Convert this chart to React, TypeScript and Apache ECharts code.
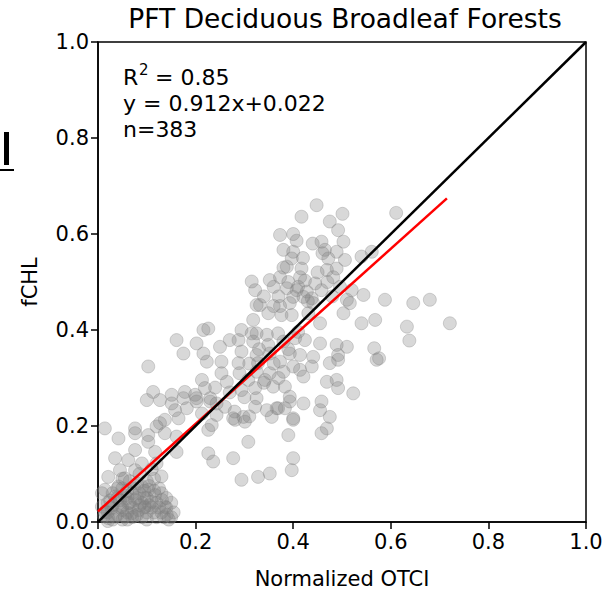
import React, { useEffect, useRef } from "react";
import * as echarts from "echarts";

// Normalized OTCI (x) vs fCHL (y) samples
const lowCluster: number[][] = [
  [0.014, 0.195], [0.076, 0.195], [0.042, 0.174], [0.076, 0.185], [0.103, 0.181], [0.12, 0.199],
  [0.137, 0.185], [0.103, 0.167], [0.161, 0.178], [0.076, 0.15], [0.117, 0.146], [0.161, 0.146],
  [0.035, 0.133], [0.062, 0.129], [0.09, 0.122], [0.12, 0.122], [0.045, 0.108], [0.076, 0.108],
  [0.021, 0.094], [0.055, 0.091], [0.014, 0.067], [0.042, 0.074], [0.008, 0.06], [0.035, 0.053],
  [0.09, 0.074], [0.103, 0.067], [0.117, 0.056], [0.131, 0.046], [0.137, 0.032], [0.141, 0.015],
  [0.11, 0.042], [0.096, 0.032], [0.083, 0.025], [0.069, 0.018], [0.055, 0.011], [0.035, 0.011],
  [0.021, 0.008], [0.076, 0.046], [0.062, 0.039], [0.049, 0.032], [0.028, 0.029], [0.014, 0.021],
  [0.008, 0.032], [0.02, 0.04], [0.03, 0.06], [0.05, 0.07], [0.06, 0.05], [0.07, 0.06],
  [0.08, 0.05], [0.09, 0.04], [0.1, 0.05], [0.11, 0.03], [0.12, 0.04], [0.1, 0.02],
  [0.12, 0.01], [0.13, 0.02], [0.14, 0.03], [0.15, 0.01], [0.06, 0.02], [0.05, 0.025],
  [0.04, 0.015], [0.07, 0.03], [0.08, 0.015], [0.09, 0.01], [0.1, 0.085], [0.115, 0.09],
  [0.13, 0.06], [0.085, 0.1], [0.065, 0.085], [0.025, 0.045], [0.045, 0.03], [0.03, 0.005],
  [0.06, 0.005], [0.075, 0.012], [0.095, 0.065], [0.105, 0.075], [0.125, 0.07], [0.14, 0.05],
  [0.15, 0.04], [0.155, 0.02], [0.11, 0.11], [0.13, 0.095], [0.095, 0.03], [0.012, 0.012],
  [0.02, 0.002], [0.04, 0.05], [0.05, 0.09], [0.08, 0.08], [0.03, 0.035], [0.045, 0.045],
  [0.055, 0.055], [0.065, 0.04], [0.075, 0.07], [0.085, 0.06], [0.095, 0.05], [0.105, 0.035],
  [0.115, 0.02], [0.125, 0.03], [0.135, 0.01], [0.145, 0.005], [0.05, 0.005], [0.085, 0.035],
  [0.1, 0.005], [0.115, 0.065], [0.07, 0.01], [0.04, 0.07], [0.02, 0.02], [0.06, 0.065],
];

const midCluster: number[][] = [
  [0.226, 0.403], [0.216, 0.4], [0.161, 0.379], [0.202, 0.372], [0.25, 0.365], [0.27, 0.379],
  [0.288, 0.379], [0.175, 0.351], [0.216, 0.351], [0.223, 0.334], [0.253, 0.334], [0.294, 0.355],
  [0.103, 0.324], [0.253, 0.31], [0.288, 0.331], [0.213, 0.296], [0.264, 0.292], [0.219, 0.279],
  [0.113, 0.271], [0.151, 0.265], [0.178, 0.271], [0.199, 0.265], [0.1, 0.254], [0.127, 0.254],
  [0.151, 0.247], [0.175, 0.258], [0.158, 0.233], [0.182, 0.237], [0.202, 0.258], [0.23, 0.258],
  [0.243, 0.247], [0.165, 0.216], [0.277, 0.216], [0.127, 0.206], [0.137, 0.213], [0.233, 0.202],
  [0.294, 0.275], [0.308, 0.296], [0.315, 0.393], [0.294, 0.4], [0.202, 0.251], [0.23, 0.251],
  [0.393, 0.251], [0.213, 0.226], [0.243, 0.223], [0.281, 0.213], [0.298, 0.219], [0.301, 0.209],
  [0.366, 0.237], [0.383, 0.237], [0.4, 0.213], [0.226, 0.192], [0.308, 0.167], [0.39, 0.181],
  [0.458, 0.185], [0.226, 0.143], [0.236, 0.126], [0.277, 0.133], [0.4, 0.133], [0.397, 0.108],
  [0.352, 0.101], [0.328, 0.094], [0.294, 0.088], [0.33, 0.36], [0.36, 0.33], [0.39, 0.36],
  [0.37, 0.3], [0.34, 0.29], [0.31, 0.33], [0.3, 0.26], [0.29, 0.31], [0.27, 0.27],
  [0.26, 0.24], [0.28, 0.23], [0.31, 0.22], [0.24, 0.28],
];

const highCluster: number[][] = [
  [0.448, 0.66], [0.417, 0.636], [0.501, 0.642], [0.475, 0.626], [0.492, 0.608], [0.373, 0.598],
  [0.407, 0.586], [0.458, 0.584], [0.503, 0.584], [0.38, 0.567], [0.4, 0.563], [0.465, 0.567],
  [0.489, 0.563], [0.397, 0.549], [0.472, 0.549], [0.506, 0.546], [0.54, 0.553], [0.561, 0.563],
  [0.387, 0.532], [0.417, 0.528], [0.469, 0.525], [0.489, 0.528], [0.352, 0.504], [0.373, 0.51],
  [0.414, 0.51], [0.424, 0.503], [0.445, 0.497], [0.482, 0.51], [0.322, 0.483], [0.387, 0.487],
  [0.407, 0.483], [0.428, 0.48], [0.458, 0.483], [0.496, 0.49], [0.315, 0.501], [0.4, 0.469],
  [0.421, 0.469], [0.438, 0.466], [0.393, 0.456], [0.332, 0.452], [0.373, 0.45], [0.51, 0.463],
  [0.544, 0.473], [0.52, 0.483], [0.611, 0.644], [0.588, 0.463], [0.646, 0.456], [0.68, 0.463],
  [0.568, 0.421], [0.633, 0.407], [0.721, 0.414], [0.638, 0.378], [0.566, 0.362], [0.576, 0.341],
  [0.325, 0.452], [0.441, 0.456], [0.516, 0.456], [0.318, 0.421], [0.349, 0.435], [0.376, 0.431],
  [0.397, 0.431], [0.431, 0.435], [0.503, 0.435], [0.455, 0.414], [0.54, 0.414], [0.325, 0.393],
  [0.346, 0.39], [0.369, 0.393], [0.41, 0.396], [0.318, 0.376], [0.349, 0.369], [0.38, 0.376],
  [0.404, 0.383], [0.424, 0.379], [0.455, 0.372], [0.489, 0.369], [0.51, 0.365], [0.325, 0.348],
  [0.352, 0.351], [0.393, 0.351], [0.414, 0.348], [0.441, 0.344], [0.492, 0.348], [0.328, 0.331],
  [0.373, 0.334], [0.4, 0.324], [0.414, 0.317], [0.438, 0.324], [0.475, 0.331], [0.492, 0.338],
  [0.571, 0.338], [0.325, 0.313], [0.352, 0.31], [0.38, 0.313], [0.421, 0.303], [0.342, 0.296],
  [0.469, 0.292], [0.489, 0.296], [0.322, 0.279], [0.359, 0.282], [0.383, 0.282], [0.492, 0.279],
  [0.523, 0.268], [0.393, 0.261], [0.325, 0.258], [0.421, 0.247], [0.458, 0.251], [0.322, 0.24],
  [0.346, 0.233], [0.369, 0.237], [0.455, 0.233], [0.356, 0.219], [0.4, 0.216], [0.475, 0.219],
  [0.469, 0.195], [0.36, 0.49], [0.37, 0.47], [0.39, 0.5], [0.41, 0.49], [0.43, 0.46],
  [0.45, 0.52], [0.47, 0.5], [0.46, 0.56], [0.38, 0.53], [0.42, 0.55], [0.44, 0.58],
  [0.4, 0.6], [0.48, 0.47], [0.36, 0.45], [0.34, 0.47],
];

const tickValues = [0, 0.2, 0.4, 0.6, 0.8, 1.0];
const fitSlope = 0.912;
const fitIntercept = 0.022;
const fitXRange = [0.0, 0.715];
const oneToOne = [[0, 0], [1, 1]];

const FONT = "DejaVu Sans";

export default function App() {
  const ref = useRef<HTMLDivElement>(null);
  useEffect(() => {
    if (!ref.current) return;
    const chart = echarts.init(ref.current, null, { renderer: "svg" });
    const fitLine = fitXRange.map((x) => [x, fitIntercept + fitSlope * x]);
    const points = [...lowCluster, ...midCluster, ...highCluster];
    const txt = (text: string, x: number, y: number, size: number, align = "left") => ({
      type: "text",
      x,
      y,
      style: {
        text,
        fontSize: size,
        fontFamily: FONT,
        fill: "#000",
        textAlign: align,
        textVerticalAlign: "middle",
      },
    });
    const axisCommon = {
      type: "value" as const,
      min: tickValues[0],
      max: tickValues[tickValues.length - 1],
      interval: 0.2,
      axisLine: { show: true, lineStyle: { color: "#000", width: 1.5 } },
      axisTick: { show: true, inside: false, length: 7, lineStyle: { color: "#000", width: 1.5 } },
      splitLine: { show: false },
      axisLabel: {
        color: "#000",
        fontSize: 21,
        fontFamily: FONT,
        margin: 9,
        formatter: (v: number) => v.toFixed(1),
      },
      nameTextStyle: { color: "#000", fontSize: 21, fontFamily: FONT },
    };
    chart.setOption({
      animation: false,
      backgroundColor: "#fff",
      grid: {
        left: 98,
        top: 42,
        width: 488,
        height: 480,
        show: true,
        borderColor: "#000",
        borderWidth: 1.5,
        backgroundColor: "transparent",
      },
      xAxis: {
        ...axisCommon,
        name: "Normalized OTCI",
        nameLocation: "middle",
        nameGap: 46,
      },
      yAxis: {
        ...axisCommon,
        name: "fCHL",
        nameLocation: "middle",
        nameGap: 58,
        nameRotate: 90,
      },
      graphic: [
        txt("PFT Deciduous Broadleaf Forests", 345, 18, 26.5, "center"),
        txt("R", 123, 77, 22),
        txt("2", 139, 70, 15),
        txt(" = 0.85", 148, 77, 22),
        txt("y = 0.912x+0.022", 123, 103, 22),
        txt("n=383", 123, 129, 22),
        { type: "rect", shape: { x: 4, y: 132, width: 5, height: 33 }, style: { fill: "#000" } },
        { type: "rect", shape: { x: 0, y: 169, width: 14, height: 2 }, style: { fill: "#000" } },
      ],
      series: [
        {
          type: "scatter",
          data: points,
          symbol: "circle",
          symbolSize: 13,
          itemStyle: {
            color: "rgba(128,128,128,0.38)",
            borderColor: "rgba(128,128,128,0.4)",
            borderWidth: 1,
          },
          z: 2,
        },
        {
          type: "line",
          data: fitLine,
          symbol: "none",
          lineStyle: { color: "#ff0000", width: 2.5 },
          z: 3,
        },
        {
          type: "line",
          data: oneToOne,
          symbol: "none",
          lineStyle: { color: "#000", width: 2.5 },
          z: 4,
        },
      ],
    });
    return () => chart.dispose();
  }, []);
  return (
    <div
      ref={ref}
      style={{ position: "fixed", left: 0, top: 0, width: 610, height: 594 }}
    />
  );
}
